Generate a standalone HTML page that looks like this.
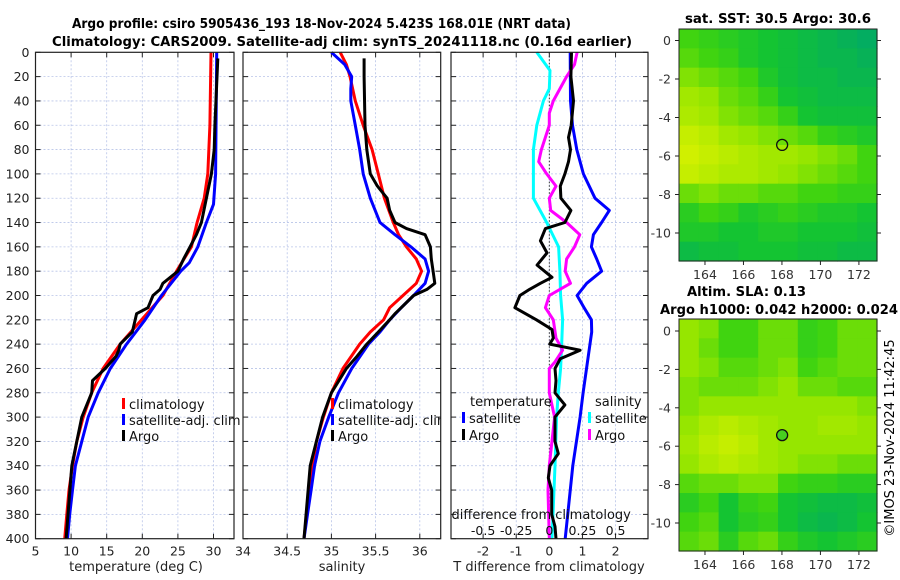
<!DOCTYPE html>
<html><head><meta charset="utf-8">
<style>
html,body{margin:0;padding:0;background:#fff;}
svg{display:block;font-family:"DejaVu Sans","Liberation Sans",sans-serif;}
</style></head>
<body>
<svg id="fig" width="900" height="580" viewBox="0 0 900 580" xmlns="http://www.w3.org/2000/svg">
<defs>
<clipPath id="clipSal"><rect x="243" y="52" width="197.7" height="487"/></clipPath>
<clipPath id="clipDiff"><rect x="451" y="52" width="197" height="487"/></clipPath>
</defs>
<rect width="900" height="580" fill="#fff"/>
<text x="72" y="28" font-size="13.5" font-weight="bold" textLength="499" lengthAdjust="spacingAndGlyphs">Argo profile: csiro 5905436_193 18-Nov-2024 5.423S 168.01E (NRT data)</text>
<text x="52" y="46" font-size="13.5" font-weight="bold" textLength="580" lengthAdjust="spacingAndGlyphs">Climatology: CARS2009. Satellite-adj clim: synTS_20241118.nc (0.16d earlier)</text>
<text x="685" y="23" font-size="13.5" font-weight="bold" textLength="186" lengthAdjust="spacingAndGlyphs">sat. SST: 30.5 Argo: 30.6</text>
<text x="687" y="296" font-size="13.5" font-weight="bold" textLength="119" lengthAdjust="spacingAndGlyphs">Altim. SLA: 0.13</text>
<text x="660" y="314" font-size="13.5" font-weight="bold" textLength="238" lengthAdjust="spacingAndGlyphs">Argo h1000: 0.042 h2000: 0.024</text>
<text x="0" y="0" font-size="13" text-anchor="middle" transform="translate(894,438) rotate(-90)">©IMOS 23-Nov-2024 11:42:45</text>
<g id="plots"></g>
</svg>
<script>
// ---- data ----
const depthTicks = [0,20,40,60,80,100,120,140,160,180,200,220,240,260,280,300,320,340,360,380,400];
const tempTicks = [5,10,15,20,25,30];
const salTicks = [34,34.5,35,35.5,36];
const tdiffTicks = [-2,-1,0,1,2];
const sdiffTicks = [-0.5,-0.25,0,0.25,0.5];
const sdiffTickLabels = ["-0.5","-0.25","0","0.25","0.5"];

const climTDepth = [0,60,100,120,140,160,180,200,220,240,260,280,300,320,340,360,380,400];
const climT      = [29.65,29.5,29.2,28.7,27.7,26.9,24.8,22.9,19.9,16.9,14.5,12.9,11.7,10.8,10.2,9.7,9.4,9.1];
const satTDepth  = [0,100,125,140,160,173,180,200,220,240,260,280,300,320,340,360,380,400];
const satT       = [30.45,30.3,30.0,29.0,27.8,26.6,25.4,22.7,20.4,17.8,15.5,13.8,12.4,11.5,10.6,10.2,9.8,9.5];
const argoTDepth = [5,60,80,100,120,140,150,160,170,180,190,195,200,210,215,220,230,240,245,250,260,270,280,300,340,400];
const argoT      = [30.6,30.2,30.1,29.7,29.0,28.3,27.6,26.7,25.8,25.0,22.9,22.5,21.5,20.8,19.2,19.0,18.6,16.9,16.7,16.3,14.8,13.0,12.9,11.5,10.1,9.3];

const climSDepth = [0,10,20,40,60,80,100,120,140,150,160,170,180,190,200,210,220,230,240,260,280,300,320,340,360,380,400];
const climS      = [35.10,35.17,35.21,35.27,35.36,35.46,35.53,35.60,35.70,35.76,35.85,35.96,36.02,35.96,35.81,35.66,35.59,35.44,35.32,35.13,35.0,34.91,34.83,34.79,34.75,34.72,34.69];
const satSDepth  = [0,10,20,30,40,60,80,100,120,140,150,160,170,180,190,200,210,220,230,240,260,280,300,320,340,360,380,400];
const satS       = [35.0,35.15,35.23,35.22,35.22,35.27,35.32,35.36,35.44,35.55,35.72,35.90,36.06,36.10,36.06,35.93,35.79,35.66,35.55,35.42,35.23,35.08,34.97,34.87,34.81,34.77,34.73,34.69];
const argoSDepth = [5,20,60,80,100,110,120,130,140,145,150,160,170,180,190,195,200,210,215,220,230,240,250,260,280,300,340,400];
const argoS      = [35.37,35.37,35.38,35.40,35.44,35.52,35.63,35.66,35.72,35.85,36.06,36.12,36.13,36.15,36.17,36.08,35.93,35.79,35.72,35.66,35.53,35.40,35.29,35.17,35.0,34.9,34.76,34.69];

const dTsatDepth = [0,40,60,80,100,120,130,140,150,160,170,180,190,200,210,220,230,280,300,340,400];
const dTsat      = [0.63,0.64,0.7,0.83,1.03,1.38,1.81,1.58,1.33,1.27,1.43,1.58,1.13,0.84,1.05,1.27,1.28,1.02,0.93,0.71,0.48];
const dTargoDepth= [0,20,40,60,70,80,90,100,110,120,130,140,145,155,165,175,185,190,195,200,210,220,228,235,240,245,252,260,270,280,290,300,320,330,340,350,360,380,390,400];
const dTargo     = [0.67,0.65,0.73,0.66,0.58,0.64,0.58,0.47,0.33,0.35,0.65,0.47,-0.12,-0.27,-0.07,-0.37,0.08,-0.27,-0.6,-0.89,-1.04,-0.39,0.08,0.12,0.01,0.93,0.33,0.17,0.2,0.17,0.47,0.17,0.17,0.27,0.02,-0.03,0.07,0.07,0.17,0.2];
const dSsatDepth = [0,15,30,40,60,80,100,120,140,160,180,200,220,240,260,280,300,340,400];
const dSsat      = [-0.095,0.005,0.0,-0.045,-0.095,-0.12,-0.12,-0.12,-0.02,0.07,0.08,0.085,0.1,0.093,0.085,0.068,0.055,0.043,0.02];
const dSargoDepth= [0,10,20,40,50,60,80,90,100,110,120,130,140,150,160,170,180,190,200,210,220,235,245,255,260,280,300,340,360,400];
const dSargo     = [0.21,0.19,0.13,0.03,0.0,0.0,-0.06,-0.08,-0.02,0.05,0.0,0.01,0.13,0.23,0.19,0.13,0.12,0.16,0.0,-0.03,0.03,0.05,0.1,0.04,0.0,0.0,0.04,0.0,-0.01,0.0];

// maps: rows lat 0..-11, cols lon 163.5..172.5 (0=low, 1=high)
const sstGrid = [
[0.5,0.45,0.4,0.35,0.3,0.25,0.2,0.15,0.1,0.05],
[0.55,0.5,0.45,0.35,0.3,0.25,0.2,0.15,0.15,0.1],
[0.65,0.6,0.55,0.5,0.35,0.25,0.2,0.2,0.15,0.15],
[0.75,0.7,0.6,0.55,0.45,0.3,0.25,0.2,0.2,0.2],
[0.8,0.75,0.65,0.6,0.55,0.45,0.3,0.25,0.25,0.25],
[0.9,0.85,0.75,0.7,0.65,0.6,0.55,0.45,0.4,0.35],
[0.95,0.9,0.85,0.8,0.75,0.75,0.7,0.65,0.6,0.5],
[0.9,0.85,0.8,0.8,0.75,0.7,0.65,0.6,0.55,0.5],
[0.6,0.65,0.6,0.6,0.55,0.55,0.5,0.5,0.45,0.45],
[0.4,0.5,0.45,0.35,0.4,0.45,0.4,0.35,0.35,0.3],
[0.35,0.35,0.3,0.3,0.35,0.35,0.3,0.3,0.3,0.25],
[0.2,0.25,0.25,0.3,0.3,0.3,0.25,0.25,0.2,0.2]];
const slaGrid = [
[0.7,0.65,0.5,0.5,0.6,0.6,0.45,0.5,0.6,0.6],
[0.7,0.6,0.5,0.5,0.6,0.6,0.45,0.5,0.6,0.6],
[0.7,0.65,0.55,0.55,0.6,0.65,0.5,0.55,0.6,0.6],
[0.65,0.6,0.6,0.6,0.65,0.7,0.6,0.6,0.55,0.55],
[0.65,0.7,0.7,0.7,0.7,0.7,0.7,0.7,0.7,0.65],
[0.7,0.8,0.85,0.8,0.75,0.7,0.7,0.75,0.75,0.7],
[0.75,0.85,0.9,0.85,0.75,0.7,0.7,0.7,0.7,0.7],
[0.7,0.8,0.85,0.8,0.75,0.7,0.65,0.65,0.6,0.6],
[0.55,0.6,0.6,0.65,0.65,0.5,0.45,0.45,0.4,0.4],
[0.4,0.5,0.3,0.45,0.5,0.3,0.25,0.2,0.2,0.25],
[0.5,0.55,0.3,0.4,0.45,0.3,0.2,0.15,0.2,0.3],
[0.55,0.6,0.4,0.55,0.6,0.45,0.35,0.3,0.35,0.4]];
const lonTicks = [164,166,168,170,172];
const latTicks = [0,-2,-4,-6,-8,-10];
const floatLon = 168.01;
const floatLat = -5.423;

// ---- drawing ----
const NS = "http://www.w3.org/2000/svg";
const root = document.getElementById('plots');
function mk(tag, attrs, parent){const e=document.createElementNS(NS,tag);for(const k in attrs)e.setAttribute(k,attrs[k]);(parent||root).appendChild(e);return e;}
function txt(s, attrs, parent){const e=mk('text',attrs,parent);e.textContent=s;return e;}

const Y0=52.3, YS=1.216;
const yD = d => Y0 + YS*d;
const PB = yD(400);
const panels = [
 {name:'temperature-panel', x0:35.5, x1:234, v0:5, v1:5+(234-35.5)/7.12},
 {name:'salinity-panel', x0:243, x1:440.7, v0:34, v1:34+(440.7-243)/88.4},
 {name:'difference-panel', x0:451, x1:648, v0:-2.97, v1:2.98}
];
const xS = (p,v) => p.x0 + (v-p.v0)/(p.v1-p.v0)*(p.x1-p.x0);

function line(p, vals, depths, color, name, scale){
  let d='';
  for(let i=0;i<vals.length;i++){d+=(i?'L':'M')+xS(p,vals[i]*(scale||1)).toFixed(1)+','+yD(depths[i]).toFixed(1);}
  const e=mk('path',{d:d,fill:'none',stroke:color,'stroke-width':3,'stroke-linejoin':'round'});
  
  
}

panels.forEach((p,pi)=>{
  const g=mk('g',{});
  
  
  const xt = pi===0?tempTicks:pi===1?salTicks:tdiffTicks;
  xt.forEach(v=>{const x=xS(p,v); if(x>p.x0+1&&x<p.x1-1) mk('line',{x1:x,x2:x,y1:Y0,y2:PB,stroke:'#b8c4e8','stroke-width':0.8,'stroke-dasharray':'2,2'},g);});
  depthTicks.forEach(d=>{const y=yD(d); if(d>0&&d<400) mk('line',{x1:p.x0,x2:p.x1,y1:y,y2:y,stroke:'#b8c4e8','stroke-width':0.8,'stroke-dasharray':'2,2'},g);
    mk('line',{x1:p.x0,x2:p.x0+5,y1:y,y2:y,stroke:'#222'},g); mk('line',{x1:p.x1-5,x2:p.x1,y1:y,y2:y,stroke:'#222'},g);
    if(pi===0){const t=txt(String(d),{x:p.x0-6,y:y+4.5,'font-size':12.5,'text-anchor':'end',fill:'#222'},g);
       }
  });
  xt.forEach(v=>{const x=xS(p,v); mk('line',{x1:x,x2:x,y1:PB,y2:PB-5,stroke:'#222'},g); mk('line',{x1:x,x2:x,y1:Y0,y2:Y0+5,stroke:'#222'},g);
    const t=txt(String(v),{x:x,y:PB+17,'font-size':12.5,'text-anchor':'middle',fill:'#222'},g);
     });
});
// x axis titles
[['temperature (deg C)',136,'temperature-axis-title'],['salinity',342,'salinity-axis-title'],['T difference from climatology',549,'t-difference-axis-title']].forEach(a=>{
  const t=txt(a[0],{x:a[1],y:571,'font-size':13,'text-anchor':'middle',fill:'#222'});
   
});
// zero line in diff panel
mk('line',{x1:xS(panels[2],0),x2:xS(panels[2],0),y1:Y0,y2:PB,stroke:'#333','stroke-width':1,'stroke-dasharray':'1.5,2'});

// series
line(panels[0],climT,climTDepth,'#f00','climatology-temperature-line');
line(panels[0],satT,satTDepth,'#00f','satellite-temperature-line');
line(panels[0],argoT,argoTDepth,'#000','argo-temperature-line');
line(panels[1],climS,climSDepth,'#f00','climatology-salinity-line');
line(panels[1],satS,satSDepth,'#00f','satellite-salinity-line');
line(panels[1],argoS,argoSDepth,'#000','argo-salinity-line');
line(panels[2],dTsat,dTsatDepth,'#00f','satellite-t-difference-line');
line(panels[2],dSsat,dSsatDepth,'#0ff','satellite-s-difference-line',4);
line(panels[2],dSargo,dSargoDepth,'#f0f','argo-s-difference-line',4);
line(panels[2],dTargo,dTargoDepth,'#000','argo-t-difference-line');

// S-difference axis inside panel 3
{const cg=mk('g',{'clip-path':'url(#clipDiff)'});
 const t=txt('S difference from climatology',{x:535,y:519,'font-size':13,'text-anchor':'middle',fill:'#111'},cg);
  
 sdiffTicks.forEach((v,i)=>{const l=txt(sdiffTickLabels[i],{x:xS(panels[2],v*4),y:535,'font-size':12.5,'text-anchor':'middle',fill:'#111'},cg);
    });}

// legends
function legend(x,y,label,color,name,clip){
  const g=mk('g',clip?{'clip-path':'url(#'+clip+')'}:{});
  
  
  mk('rect',{x:x,y:y-11,width:3,height:11,fill:color},g);
  txt(label,{x:x+7,y:y,'font-size':13,fill:'#111'},g);
}
legend(122,409,'climatology','#f00','legend-climatology');
legend(122,425,'satellite-adj. clim','#00f','legend-satellite-adj');
legend(122,441,'Argo','#000','legend-argo');
legend(331,409,'climatology','#f00','legend-climatology-salinity','clipSal');
legend(331,425,'satellite-adj. clim','#00f','legend-satellite-adj-salinity','clipSal');
legend(331,441,'Argo','#000','legend-argo-salinity','clipSal');
{const t=txt('temperature',{x:470,y:406,'font-size':13,fill:'#111'});
 const s=txt('salinity',{x:595,y:406,'font-size':13,fill:'#111'});}
legend(462,423,'satellite','#00f','legend-t-satellite');
legend(462,440,'Argo','#000','legend-t-argo');
legend(588,423,'satellite','#0ff','legend-s-satellite','clipDiff');
legend(588,440,'Argo','#f0f','legend-s-argo','clipDiff');

// panel frames
panels.forEach(p=>{mk('rect',{x:p.x0,y:Y0,width:p.x1-p.x0,height:PB-Y0,fill:'none',stroke:'#222','stroke-width':1.2});});

// maps
const stops=[[0,[0,168,106]],[0.3,[20,196,50]],[0.5,[64,212,16]],[0.7,[150,230,0]],[1,[220,242,0]]];
function cmap(v){for(let i=1;i<stops.length;i++){if(v<=stops[i][0]){const a=stops[i-1],b=stops[i];const t=(v-a[0])/(b[0]-a[0]);
  const c=a[1].map((x,k)=>Math.round(x+(b[1][k]-x)*t));return 'rgb('+c.join(',')+')';}}return 'rgb(220,242,0)';}
const MX0=679, MX1=877, LON0=162.65, LON1=172.94;
const mxS = lon => MX0+(lon-LON0)/(LON1-LON0)*(MX1-MX0);
function drawMap(grid, top, bottom, lat0y, name, filled){
  const g=mk('g',{});
  
  
  const pxPerLat=(lat0y.m10-lat0y.z)/10;
  const myS = lat => lat0y.z - lat*pxPerLat;
  const cw=(MX1-MX0)/grid[0].length, ch=(bottom-top)/grid.length;
  grid.forEach((row,r)=>row.forEach((v,c)=>{
    const cell=mk('rect',{x:(MX0+c*cw).toFixed(2),y:(top+r*ch).toFixed(2),width:(cw+0.6).toFixed(2),height:(ch+0.6).toFixed(2),fill:cmap(v)},g);
    
    
  }));
  mk('rect',{x:MX0,y:top,width:MX1-MX0,height:bottom-top,fill:'none',stroke:'#222','stroke-width':1},g);
  lonTicks.forEach(l=>{const x=mxS(l);mk('line',{x1:x,x2:x,y1:bottom,y2:bottom+4,stroke:'#222'},g);
    const t=txt(String(l),{x:x,y:bottom+18,'font-size':12.5,'text-anchor':'middle',fill:'#333'},g);
    });
  latTicks.forEach(l=>{const y=myS(l);mk('line',{x1:MX0-4,x2:MX0,y1:y,y2:y,stroke:'#222'},g);mk('line',{x1:MX1,x2:MX1+4,y1:y,y2:y,stroke:'#222'},g);
    const t=txt(String(l),{x:MX0-8,y:y+4.5,'font-size':12.5,'text-anchor':'end',fill:'#333'},g);
    });
  const m=mk('circle',{cx:mxS(floatLon),cy:myS(floatLat),r:5.5,fill:filled?'#48d020':'none',stroke:'#111','stroke-width':1.3},g);
  
  
}
drawMap(sstGrid,29,261,{z:40.5,m10:233},'sst-map',false);
drawMap(slaGrid,319,551,{z:331,m10:523},'sla-map',true);
</script>
</body></html>
